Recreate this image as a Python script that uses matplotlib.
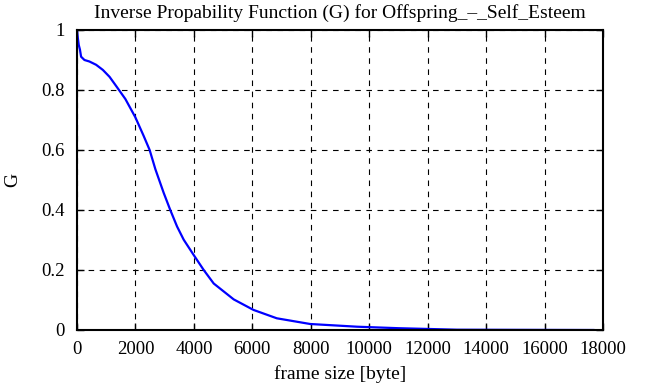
import matplotlib
matplotlib.use('Agg')
import matplotlib.pyplot as plt

plt.rcParams['font.family'] = ['Liberation Serif', 'DejaVu Serif']

# valores
frame_size = [0, 20, 60, 100, 140, 255, 425, 655, 884, 1113, 1342, 1655, 1997, 2281,
              2486, 2682, 2967, 3188, 3424, 3651, 3993, 4336, 4678, 5363, 6038, 6838,
              7979, 9578, 11000, 12200, 13000, 17670]
G = [1.0, 0.98, 0.95, 0.935, 0.911, 0.90, 0.895, 0.884, 0.867, 0.844, 0.813, 0.770,
     0.709, 0.647, 0.600, 0.536, 0.457, 0.401, 0.345, 0.301, 0.250, 0.200, 0.155, 0.102,
     0.067, 0.039, 0.02, 0.011, 0.006, 0.003, 0.001, 0.0]

xticks = [0, 2000, 4000, 6000, 8000, 10000, 12000, 14000, 16000, 18000]
yticks = [0, 0.2, 0.4, 0.6, 0.8, 1]
ytick_labels = ['0', '0.2', '0.4', '0.6', '0.8', '1']

fig = plt.figure(figsize=(6.53, 3.85), dpi=100)
ax = fig.add_axes([77/653, 1-330/385, (603-77)/653, 300/385])

ax.plot(frame_size, G, color='#0000ff', linewidth=1.6)

ax.set_xlim(0, 18000)
ax.set_ylim(0, 1)
ax.set_xticks(xticks)
ax.set_xticklabels([str(t) for t in xticks])
ax.set_yticks(yticks)
ax.set_yticklabels(ytick_labels)
ax.grid(True, color='black', linestyle=(0, (5, 5)), linewidth=0.8)
ax.tick_params(direction='in', top=True, right=True, length=5, width=1, labelsize=13.5)
ax.tick_params(axis='x', pad=8)
ax.tick_params(axis='y', pad=9)
for s in ax.spines.values():
    s.set_linewidth(1.5)

ax.set_title('Inverse Propability Function (G) for Offspring_–_Self_Esteem', fontsize=14, pad=9)
ax.set_xlabel('frame size [byte]', fontsize=14, labelpad=5)
ax.set_ylabel('G', fontsize=14, labelpad=14)

fig.savefig('out.png', dpi=100)
